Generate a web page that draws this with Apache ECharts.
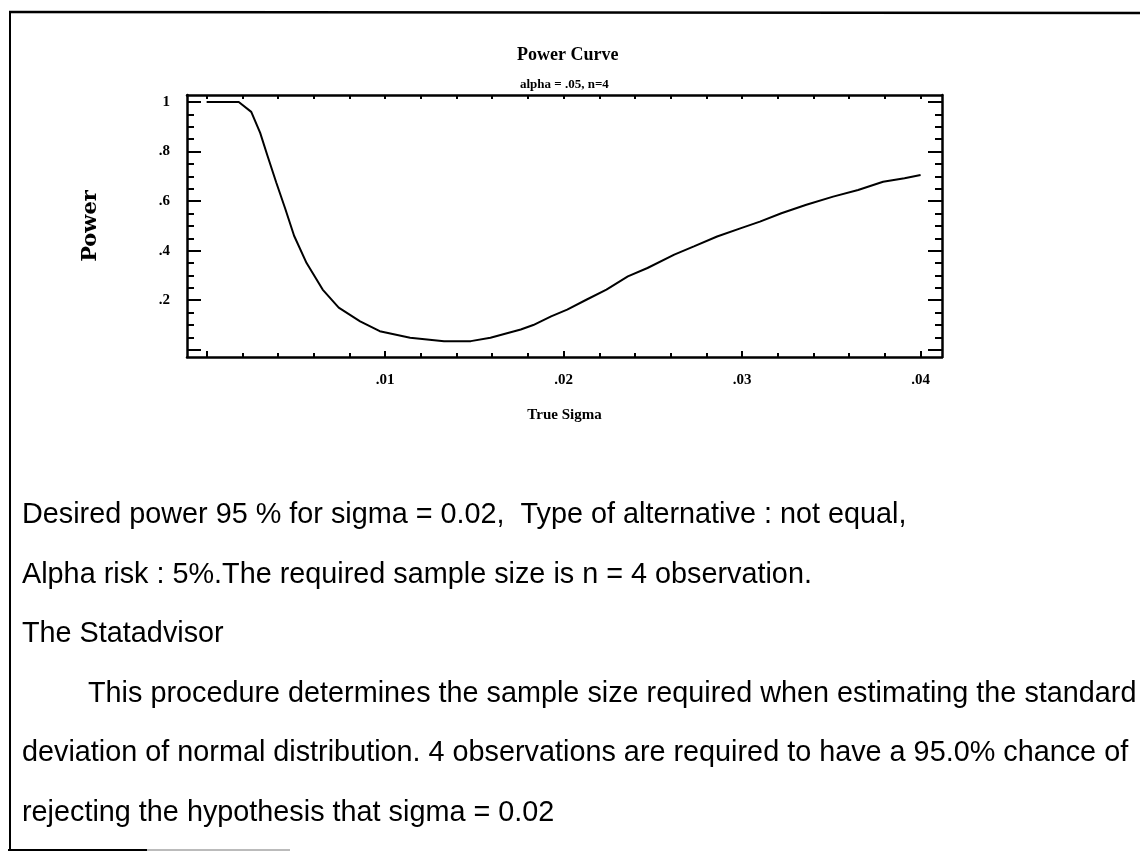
<!DOCTYPE html>
<html>
<head>
<meta charset="utf-8">
<title>Power Curve</title>
<script src="https://cdn.jsdelivr.net/npm/echarts@6/dist/echarts.min.js"></script>
<style>
  html, body { margin: 0; padding: 0; background: #fff; }
  #main { width: 1140px; height: 852px; }
</style>
</head>
<body>
<div id="main"></div>
<script>
// power curve: true sigma -> power
var sigma = [0.0000, 0.0018, 0.0025, 0.0030, 0.0034, 0.0039, 0.0044, 0.0049, 0.0056, 0.0065,
             0.0074, 0.0086, 0.0097, 0.0114, 0.0133, 0.0148, 0.0159, 0.0176, 0.0183, 0.0193,
             0.0202, 0.0213, 0.0224, 0.0236, 0.0247, 0.0262, 0.0273, 0.0286, 0.0299, 0.0310,
             0.0322, 0.0336, 0.0351, 0.0365, 0.0379, 0.0391, 0.0400];
var power = [1.000, 1.000, 0.960, 0.875, 0.785, 0.675, 0.570, 0.460, 0.350, 0.243,
             0.170, 0.115, 0.075, 0.049, 0.035, 0.035, 0.049, 0.082, 0.100, 0.135,
             0.162, 0.203, 0.243, 0.296, 0.330, 0.384, 0.417, 0.457, 0.490, 0.517,
             0.551, 0.585, 0.618, 0.645, 0.678, 0.692, 0.705];

var sigmaLabels = [0.01, 0.02, 0.03, 0.04];
var powerLabels = [0.2, 0.4, 0.6, 0.8, 1];
var sigmaMajor = [0, 0.01, 0.02, 0.03, 0.04];
var powerMajor = [0, 0.2, 0.4, 0.6, 0.8, 1];

var noteLines = [
    'Desired power 95 % for sigma = 0.02,  Type of alternative : not equal,',
    'Alpha risk : 5%.The required sample size is n = 4 observation.',
    'The Statadvisor',
    'This procedure determines the sample size required when estimating the standard',
    'deviation of normal distribution. 4 observations are required to have a 95.0% chance of',
    'rejecting the hypothesis that sigma = 0.02'
];
var indentLine = 3;   // first line of the Statadvisor paragraph

var sigmaMinor = [], powerMinor = [];
for (var i = 0; i <= 20; i++) {
    sigmaMinor.push(+(i * 0.002).toFixed(3));
    powerMinor.push(+(i * 0.05).toFixed(2));
}

var serif = '"Liberation Serif", "Times New Roman", serif';
var xMin = -0.0011, xMax = 0.0412;
var yMin = -0.029, yMax = 1.028;

function shortNum(v) {
    // .01 / .8 style labels, leading zero dropped
    return String(+v.toFixed(3)).replace(/^0\./, '.');
}

function tickAxis(pos, min, max, ticks, len, showLine) {
    return {
        type: 'value', position: pos, min: min, max: max,
        axisLine: { show: showLine, onZero: false, lineStyle: { color: '#000', width: 2.5 } },
        axisTick: { inside: true, length: len, customValues: ticks, lineStyle: { color: '#000', width: 2 } },
        axisLabel: { show: false },
        splitLine: { show: false }
    };
}

var points = sigma.map(function (s, k) { return [s, power[k]]; });

var graphics = [
    { type: 'line', shape: { x1: 9, y1: 12, x2: 1140, y2: 13 }, style: { stroke: '#000', lineWidth: 2.5 } },
    { type: 'line', shape: { x1: 10, y1: 11, x2: 10, y2: 851 }, style: { stroke: '#000', lineWidth: 2 } },
    { type: 'line', shape: { x1: 8, y1: 850, x2: 147, y2: 850 }, style: { stroke: '#000', lineWidth: 2 } },
    { type: 'line', shape: { x1: 147, y1: 850, x2: 290, y2: 850 }, style: { stroke: '#bbb', lineWidth: 2 } }
];
noteLines.forEach(function (t, k) {
    graphics.push({
        type: 'text', left: k === indentLine ? 88 : 22, top: 517 + k * 59.5 - 16,
        style: { text: t, fill: '#000', fontSize: 28.8, fontFamily: '"Liberation Sans", Arial, sans-serif' }
    });
});

var option = {
    animation: false,
    backgroundColor: '#fff',
    title: [
        { text: 'Power Curve', left: 512, top: 41,
          textStyle: { fontFamily: serif, fontSize: 18, fontWeight: 'bold', color: '#000' } },
        { text: 'alpha = .05, n=4', left: 515, top: 73,
          textStyle: { fontFamily: serif, fontSize: 13, fontWeight: 'bold', color: '#000' } }
    ],
    grid: { left: 187, right: 198, top: 95, bottom: 495, containLabel: false },
    xAxis: [
        {
            type: 'value', position: 'bottom', min: xMin, max: xMax,
            axisLine: { onZero: false, lineStyle: { color: '#000', width: 2.5 } },
            axisTick: { inside: true, length: 6, customValues: sigmaMajor, lineStyle: { color: '#000', width: 2 } },
            axisLabel: {
                customValues: sigmaLabels, formatter: shortNum, margin: 16,
                color: '#000', fontFamily: serif, fontSize: 15, fontWeight: 'bold'
            },
            splitLine: { show: false },
            name: 'True Sigma', nameLocation: 'middle', nameGap: 51,
            nameTextStyle: { color: '#000', fontFamily: serif, fontSize: 15, fontWeight: 'bold' }
        },
        tickAxis('bottom', xMin, xMax, sigmaMinor, 4, false),
        tickAxis('top', xMin, xMax, sigmaMinor, 4, true)
    ],
    yAxis: [
        {
            type: 'value', position: 'left', min: yMin, max: yMax,
            axisLine: { onZero: false, lineStyle: { color: '#000', width: 2.5 } },
            axisTick: { inside: true, length: 14, customValues: powerMajor, lineStyle: { color: '#000', width: 2 } },
            axisLabel: {
                customValues: powerLabels, formatter: shortNum, margin: 17,
                color: '#000', fontFamily: serif, fontSize: 15, fontWeight: 'bold'
            },
            splitLine: { show: false },
            name: 'Power', nameLocation: 'middle', nameGap: 86,
            nameTextStyle: { color: '#000', fontFamily: '"DejaVu Serif", serif', fontSize: 21, fontWeight: 'bold' }
        },
        tickAxis('left', yMin, yMax, powerMinor, 7, false),
        tickAxis('right', yMin, yMax, powerMajor, 14, true),
        tickAxis('right', yMin, yMax, powerMinor, 7, false)
    ],
    series: [{
        type: 'line',
        data: points,
        xAxisIndex: 0, yAxisIndex: 0,
        showSymbol: false,
        smooth: false,
        lineStyle: { color: '#000', width: 2 }
    }],
    graphic: graphics
};

var chart = echarts.init(document.getElementById('main'));
chart.setOption(option);
</script>
</body>
</html>
